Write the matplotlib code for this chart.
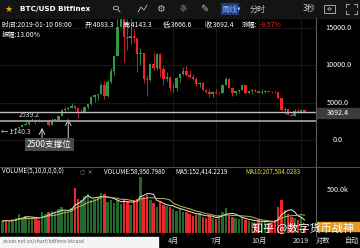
import matplotlib
matplotlib.use("Agg")
import matplotlib.pyplot as plt
import matplotlib.transforms as mtransforms
from matplotlib.patches import Rectangle, Circle
import pandas as pd

plt.rcParams['font.family'] = ['Noto Sans CJK SC', 'DejaVu Sans']

# weekly candles, Apr 2017 .. Jan 2019
opens = [1150, 1190, 1170, 1250, 1340, 1560, 1730, 2040, 2200, 2520,
         2660, 2520, 2480, 2500, 2520, 1990, 2720, 2740, 3230, 4080,
         4090, 4350, 4600, 4220, 3700, 3780, 4400, 4780, 5700, 6000,
         6150, 7400, 5900, 7750, 9300, 11300, 15200, 19100, 13800, 13600,
         13900, 13600, 11500, 11600, 8200, 8100, 10200, 9700, 11500, 9500,
         8200, 8500, 6900, 6950, 8300, 8900, 9300, 8700, 8500, 8200,
         7450, 7680, 6700, 6400, 6200, 6400, 6300, 6350, 7400, 8200,
         7000, 6300, 6500, 6700, 7300, 6300, 6500, 6700, 6600, 6300,
         6400, 6500, 6450, 6420, 6380, 5600, 4050, 4150, 3350, 3250,
         3950, 3750, 4083.3]
highs = [1215, 1230, 1270, 1350, 1600, 1800, 2080, 2770, 2550, 2980,
         2780, 2750, 2600, 2650, 2540, 2920, 2820, 3300, 4200, 4480,
         4400, 4980, 4690, 4350, 4120, 4430, 4800, 5860, 6200, 6180,
         7600, 7900, 8000, 9650, 11400, 16800, 19666, 19200, 16500, 17200,
         14900, 13700, 12300, 11700, 8700, 10350, 11800, 11700, 11700, 9900,
         9100, 8600, 7500, 8400, 9000, 9750, 9950, 9400, 8900, 8500,
         7750, 7750, 6800, 6800, 6500, 6800, 6420, 7550, 8500, 8250,
         7150, 6580, 6850, 7400, 7400, 6550, 6800, 6800, 6700, 6800,
         6700, 6550, 6500, 6600, 6400, 5650, 4400, 4200, 3550, 4200,
         4250, 4100, 4143.3]
lows = [1140.3, 1150, 1165, 1240, 1330, 1540, 1700, 2030, 1950, 2500,
        2080, 2450, 2350, 2480, 1830, 1960, 2500, 2690, 3200, 3850,
        3980, 4300, 3980, 2980, 3550, 3720, 4120, 4750, 5100, 5400,
        6100, 5500, 5800, 7700, 8700, 11200, 15100, 10500, 12000, 12800,
        13000, 9100, 10000, 7700, 5900, 7900, 9400, 9400, 8500, 7300,
        7900, 6600, 6450, 6600, 7800, 8700, 8600, 8300, 8000, 7200,
        7150, 6600, 6250, 5800, 5750, 6200, 6100, 6300, 7350, 6900,
        5900, 6000, 6300, 6650, 6100, 6150, 6150, 6400, 6250, 6150,
        6350, 6400, 6300, 6350, 5500, 3900, 3500, 3300, 3200, 3230,
        3650, 3670, 3666.6]
closes = [1190, 1170, 1250, 1340, 1560, 1730, 2040, 2200, 2520, 2660,
          2520, 2480, 2500, 2520, 1990, 2720, 2740, 3230, 4080, 4090,
          4350, 4600, 4220, 3700, 3780, 4400, 4780, 5700, 6000, 6150,
          7400, 5900, 7750, 9300, 11300, 15200, 19100, 13800, 13600, 13900,
          13600, 11500, 11600, 8200, 8100, 10200, 9700, 11500, 9500, 8200,
          8500, 6900, 6950, 8300, 8900, 9300, 8700, 8500, 8200, 7450,
          7680, 6700, 6400, 6200, 6400, 6300, 6350, 7400, 8200, 7000,
          6300, 6500, 6700, 7300, 6300, 6500, 6700, 6600, 6300, 6400,
          6500, 6450, 6420, 6380, 5600, 4050, 4150, 3350, 3250, 3950,
          3750, 4083.3, 3692.4]
# weekly volume, thousands
volumes = [140, 150, 130, 160, 170, 220, 180, 200, 170, 160,
           190, 150, 240, 220, 250, 260, 230, 280, 300, 260,
           240, 290, 520, 400, 380, 430, 450, 380, 400, 420,
           460, 450, 360, 380, 350, 380, 340, 390, 360, 330,
           380, 400, 650, 420, 440, 380, 350, 300, 360, 330,
           310, 300, 280, 260, 280, 250, 240, 220, 200, 210,
           230, 190, 170, 200, 180, 160, 210, 250, 290, 200,
           190, 170, 160, 180, 150, 140, 130, 120, 150, 140,
           130, 120, 110, 150, 300, 380, 270, 216, 190, 170,
           150, 190, 59]
month_ticks = [52, 65, 78, 91]
month_labels = ['4月', '7月', '10月', '2019']
price_ticks = [0, 5000, 10000, 15000]
last_price = 3692.4

GREEN = '#2f9a40'
RED = '#e8262b'
VGREEN = '#216a2c'
BG = '#000000'
W, H = 360, 248

fig = plt.figure(figsize=(3.6, 2.48), dpi=100, facecolor=BG)


def px_axes(x0, y0, x1, y1):
    return fig.add_axes([x0 / W, 1 - y1 / H, (x1 - x0) / W, (y1 - y0) / H])


def ftext(x, y, s, **kw):
    kw.setdefault('color', 'white')
    kw.setdefault('va', 'center')
    return fig.text(x / W, 1 - y / H, s, **kw)


def frect(x0, y0, x1, y1, **kw):
    fig.patches.append(Rectangle((x0 / W, 1 - y1 / H), (x1 - x0) / W, (y1 - y0) / H,
                                 transform=fig.transFigure, **kw))


def fline(xs, ys, **kw):
    fig.add_artist(plt.Line2D([x / W for x in xs], [1 - y / H for y in ys],
                              transform=fig.transFigure, **kw))


n = len(closes)
xs = list(range(n))
up = [c >= o for o, c in zip(opens, closes)]
XL = (-0.8, 95.5)

# ---- price panel
ax = px_axes(0, 18, 316, 167)
ax.set_facecolor(BG)
ax.set_xlim(*XL)
ax.set_ylim(-3616, 16339)
for s in ax.spines.values():
    s.set_visible(False)
ax.set_xticks([])
ax.set_yticks([])
for v in price_ticks:
    ax.axhline(v, color='#1c1c1c', lw=0.6, zorder=0)
for t in month_ticks:
    ax.axvline(t, color='#1c1c1c', lw=0.6, zorder=0)

cols = [GREEN if u else RED for u in up]
ax.vlines(xs, lows, highs, colors=cols, lw=0.6, zorder=2)
bodies = [max(abs(c - o), 40) for o, c in zip(opens, closes)]
ax.bar(xs, bodies, bottom=[min(o, c) for o, c in zip(opens, closes)],
       width=0.72, color=cols, zorder=3)

ax.axhline(last_price, color='#bdbdbd', lw=1.0, zorder=4)
ax.axhline(2500, color='#9a9a9a', lw=1.3, zorder=4)

tr = mtransforms.blended_transform_factory(ax.transAxes, ax.transData)
for v in price_ticks:
    ax.text(1 + 22 / 316, v, '%.1f' % v, transform=tr, ha='center', va='center',
            color='white', fontsize=5.2, clip_on=False)
ax.text(5, 3300, '2539.2', color='#d0d0d0', fontsize=5, ha='left', va='center')
ax.text(-0.6, 1140.3 - 100, '← 1140.3', color='#d0d0d0', fontsize=5, ha='left', va='center')

ax.annotate('', xy=(12, 2000), xytext=(12, -400),
            arrowprops=dict(arrowstyle='->', color='#cfcfcf', lw=0.7))
ax.annotate('', xy=(20, 3200), xytext=(20, -1200),
            arrowprops=dict(arrowstyle='->', color='#cfcfcf', lw=0.7))
ax.text(14.3, -560, '2500支撑位', color='white', fontsize=6.2, ha='center', va='center',
        bbox=dict(boxstyle='square,pad=0.25', fc='#4a4a4a', ec='none'), zorder=6)

frect(316, 108, 360, 118, color='#3c3c3c')
ftext(338, 113, '%.1f' % last_price, fontsize=5.2, ha='center')

# ---- volume panel
vax = px_axes(0, 176, 316, 233)
vax.set_facecolor(BG)
vax.set_xlim(*XL)
vax.set_ylim(0, 663)
for s in vax.spines.values():
    s.set_visible(False)
vax.set_xticks([])
vax.set_yticks([])
for t in month_ticks:
    vax.axvline(t, color='#1c1c1c', lw=0.6, zorder=0)
vax.bar(xs, volumes, width=0.75, color=[VGREEN if u else RED for u in up], zorder=2)
vol = pd.Series(volumes, dtype=float)
vax.plot(xs, vol.rolling(5, min_periods=1).mean(), color='#ecead8', lw=0.7, zorder=3)
vax.plot(xs, vol.rolling(10, min_periods=1).mean(), color='#c9b35a', lw=0.7, zorder=3)
ftext(338, 190, '500.0k', fontsize=5.2, ha='center')
frect(316, 222, 360, 231, color='#e39a1e')

# ---- frame lines
fline([316, 316], [18, 236], color='#5a5a5a', lw=0.8)
fline([0, 360], [167, 167], color='#4a4a4a', lw=0.8)

# ---- top bar
frect(0, 0, 360, 18, color='#141414')
ftext(4, 9, '★', color='#f0a020', fontsize=6.5, family='DejaVu Sans')
ftext(20, 9, 'BTC/USD Bitfinex', fontsize=5.2, weight='bold', family='DejaVu Sans')
fig.patches.append(Circle((116 / W, 1 - 8 / H), 2.6 / W, transform=fig.transFigure,
                          fill=False, ec='#bbbbbb', lw=0.6))
fline([118, 120], [10, 12], color='#bbbbbb', lw=0.6)
fline([138, 141, 144, 147], [12, 7, 10, 5], color='#bbbbbb', lw=0.6)
ftext(160, 9, '⚙', color='#bbbbbb', fontsize=7, ha='center', family='DejaVu Sans')
ftext(183, 9, '☼', color='#bbbbbb', fontsize=7, ha='center', family='DejaVu Sans')
ftext(204, 9, '✎', color='#bbbbbb', fontsize=7, ha='center', family='DejaVu Sans')
ftext(222, 9, '周线', color='#8db8ff', fontsize=5.8,
      bbox=dict(boxstyle='square,pad=0.15', fc='#1f3c78', ec='none'))
ftext(237, 9, '▾', color='#8db8ff', fontsize=5, family='DejaVu Sans')
ftext(250, 9, '分时', color='#cccccc', fontsize=5.8)
ftext(303, 9, '3秒', color='#cccccc', fontsize=5.8)
frect(324, 5, 335, 13, fill=False, ec='#bbbbbb', lw=0.6)
fig.patches.append(Circle((329.5 / W, 1 - 9 / H), 1.6 / W, transform=fig.transFigure,
                          fill=False, ec='#bbbbbb', lw=0.6))
for cx, cy, dx, dy in [(346, 4, 1, 1), (357, 4, -1, 1), (346, 14, 1, -1), (357, 14, -1, -1)]:
    fline([cx + 3 * dx, cx, cx], [cy, cy, cy + 3 * dy], color='#bbbbbb', lw=0.6)

# ---- info lines
info = [(2, '时间:2019-01-10 08:00', 'white'), (85, '开:4083.3', 'white'),
        (123, '高:4143.3', 'white'), (163, '低:3666.6', 'white'),
        (205, '收:3692.4', 'white'), (242, '涨幅:', 'white'), (260, '-9.57%', '#e8262b')]
for x, s, c in info:
    ftext(x, 25, s, color=c, fontsize=4.9)
ftext(2, 35, '振幅:13.00%', fontsize=4.9)

ftext(2, 172, 'VOLUME(5,10,0,0,0,0)', fontsize=4.5)
ftext(80, 172, '○ ✕', color='#888888', fontsize=4.5, family='DejaVu Sans')
ftext(104, 172, 'VOLUME:58,950.7980', fontsize=4.5)
ftext(175, 172, 'MA5:152,414.2219', fontsize=4.5)
ftext(245, 172, 'MA10:207,584.0283', color='#e8d84a', fontsize=4.5)

# ---- bottom strip
for t, lab in zip(month_ticks, month_labels):
    ftext((t - XL[0]) / (XL[1] - XL[0]) * 316, 241, lab, color='#dddddd',
          fontsize=5.2, ha='center')
ftext(323, 241, '对数', color='#dddddd', fontsize=5.2, ha='center')
ftext(352, 241, '自动', color='#dddddd', fontsize=5.2, ha='center')
frect(0, 237, 158, 248, color='#f4f4f4')
ftext(3, 242, 'aicoin.net.cn/chart/bitfinex-btcusd', color='#666666', fontsize=3.6)

ftext(303, 228, '知乎 @数字货币战神', fontsize=8, ha='center')

fig.savefig('out.png', dpi=100, facecolor=BG)
